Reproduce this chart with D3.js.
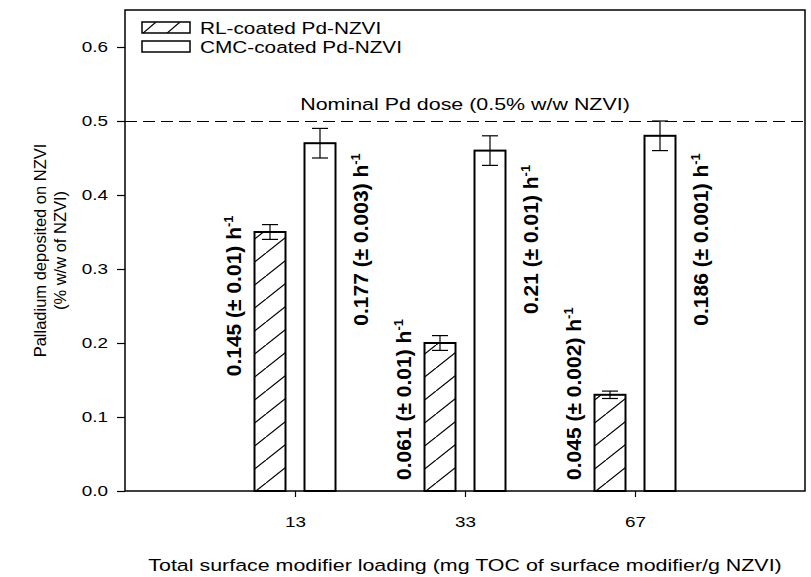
<!DOCTYPE html>
<html>
<head>
<meta charset="utf-8">
<script src="https://cdn.jsdelivr.net/npm/d3@7"></script>
<style>
  html, body { margin: 0; padding: 0; background: #fff; }
  svg { display: block; font-family: "Liberation Sans", Arial, sans-serif; }
</style>
</head>
<body>
<svg id="chart" width="811" height="577"></svg>
<script>
// ---------- data ----------
const categories = ["13", "33", "67"];
const seriesNames = ["RL-coated Pd-NZVI", "CMC-coated Pd-NZVI"];
const rlValues = [0.35, 0.20, 0.13];
const rlErrors = [0.01, 0.01, 0.005];
const cmcValues = [0.47, 0.46, 0.48];
const cmcErrors = [0.02, 0.02, 0.02];
const rlRates = ["0.145 (± 0.01) h", "0.061 (± 0.01) h", "0.045 (± 0.002) h"];
const cmcRates = ["0.177 (± 0.003) h", "0.21 (± 0.01) h", "0.186 (± 0.001) h"];
const rateUnitExp = "-1";
const yTicks = [0.0, 0.1, 0.2, 0.3, 0.4, 0.5, 0.6];
const nominalDose = 0.5;
const nominalLabel = "Nominal Pd dose (0.5% w/w NZVI)";
const xTitle = "Total surface modifier loading (mg TOC of surface modifier/g NZVI)";
const yTitle1 = "Palladium deposited on NZVI";
const yTitle2 = "(% w/w of NZVI)";

// ---------- layout ----------
const M = { left: 125, right: 805, top: 10, bottom: 491 };
const S = 1.26;                            // horizontal stretch of the lettering
const rlLabelAt = [0.155, 0.015, 0.015];   // value where RL rate label starts
const cmcLabelMid = 0.34;                  // value at centre of CMC rate labels

const svg = d3.select("#chart");

const x = d3.scalePoint().domain(categories).range([M.left, M.right]).padding(1);
const xSub = d3.scaleBand().domain(["RL", "CMC"]).range([-40.5, 40.5]).paddingInner(0.38);
const y = d3.scaleLinear().domain([0, 0.65]).range([M.bottom, M.top]);

// hatch pattern
const defs = svg.append("defs");
const pw = 29, ph = 23;
const pat = defs.append("pattern").attr("id", "hatch")
  .attr("patternUnits", "userSpaceOnUse").attr("width", pw).attr("height", ph);
pat.append("path")
  .attr("d", `M0,${ph} L${pw},0 M${-pw},${ph} L0,0 M${pw},${2*ph} L${2*pw},${ph}`)
  .attr("stroke", "#000").attr("stroke-width", 1.2).attr("fill", "none");
const pat2 = defs.append("pattern").attr("id", "hatchLegend")
  .attr("patternUnits", "userSpaceOnUse").attr("width", 24).attr("height", 12)
  .attr("x", 142).attr("y", 22);
pat2.append("path").attr("d", "M0,12 L14,0").attr("stroke", "#000").attr("stroke-width", 1.2);

// data rows
const rows = categories.map((c, i) => ({
  cat: c,
  bars: [
    { key: "RL", v: rlValues[i], e: rlErrors[i] },
    { key: "CMC", v: cmcValues[i], e: cmcErrors[i] }
  ]
}));

// bars
const g = svg.append("g");
const cat = g.selectAll("g.cat").data(rows).join("g")
  .attr("class", "cat")
  .attr("transform", d => `translate(${x(d.cat)},0)`);

cat.selectAll("rect").data(d => d.bars).join("rect")
  .attr("x", d => xSub(d.key))
  .attr("width", xSub.bandwidth())
  .attr("y", d => y(d.v))
  .attr("height", d => y(0) - y(d.v))
  .attr("fill", d => d.key === "RL" ? "url(#hatch)" : "#fff")
  .attr("stroke", "#000").attr("stroke-width", 2);

// error bars
const capW = 16;
const eb = cat.selectAll("g.eb").data(d => d.bars).join("g").attr("class", "eb")
  .attr("stroke", "#000").attr("stroke-width", 1.2);
const cx = d => xSub(d.key) + xSub.bandwidth() / 2;
eb.append("line")
  .attr("x1", cx).attr("x2", cx)
  .attr("y1", d => y(d.v + d.e)).attr("y2", d => y(d.v - d.e));
eb.append("line")
  .attr("x1", d => cx(d) - capW / 2).attr("x2", d => cx(d) + capW / 2)
  .attr("y1", d => y(d.v + d.e)).attr("y2", d => y(d.v + d.e));
eb.append("line")
  .attr("x1", d => cx(d) - capW / 2).attr("x2", d => cx(d) + capW / 2)
  .attr("y1", d => y(d.v - d.e)).attr("y2", d => y(d.v - d.e));

// nominal dose dashed line
svg.append("line")
  .attr("x1", M.left).attr("x2", M.right)
  .attr("y1", y(nominalDose) + 0.5).attr("y2", y(nominalDose) + 0.5)
  .attr("stroke", "#000").attr("stroke-width", 1.2)
  .attr("stroke-dasharray", "12,6");

function stretched(px, py, rotate, s) {
  const k = s === undefined ? S : s;
  return svg.append("g")
    .attr("transform", `translate(${px},${py}) scale(${k},1)` + (rotate ? " rotate(-90)" : ""))
    .append("text");
}

stretched(x("33"), y(nominalDose) - 11, false)
  .attr("text-anchor", "middle").attr("font-size", 17)
  .text(nominalLabel);

// rate labels
function rateLabel(sel, txt) {
  sel.append("tspan").text(txt);
  sel.append("tspan").attr("font-size", 13).attr("dy", -8).text(rateUnitExp);
}
categories.forEach((c, i) => {
  const t1 = stretched(x(c) - 54, y(rlLabelAt[i]), true, 1)
    .attr("text-anchor", "start").attr("font-size", 21).attr("font-weight", "bold");
  rateLabel(t1, rlRates[i]);
  const t2 = stretched(x(c) + 73, y(cmcLabelMid), true, 1)
    .attr("text-anchor", "middle").attr("font-size", 21).attr("font-weight", "bold");
  rateLabel(t2, cmcRates[i]);
});

// axes
const yAxis = d3.axisLeft(y).tickValues(yTicks).tickFormat(d3.format(".1f")).tickSize(8);
const yg = svg.append("g").attr("transform", `translate(${M.left},0)`).call(yAxis);
const xAxis = d3.axisBottom(x).tickSize(6).tickPadding(19);
const xg = svg.append("g").attr("transform", `translate(0,${M.bottom})`).call(xAxis);
[yg, xg].forEach(a => {
  a.select(".domain").remove();
  a.selectAll("line").attr("stroke", "#000").attr("stroke-width", 1.2);
  a.selectAll("text").attr("font-size", 15).attr("fill", "#000")
    .attr("font-family", "Liberation Sans, Arial, sans-serif");
});
yg.selectAll(".tick text").attr("x", -17 / S).attr("transform", `scale(${S},1)`);
xg.selectAll(".tick text").attr("transform", `scale(${S},1)`);

// frame
svg.append("rect")
  .attr("x", M.left).attr("y", M.top)
  .attr("width", M.right - M.left).attr("height", M.bottom - M.top)
  .attr("fill", "none").attr("stroke", "#000").attr("stroke-width", 1.5);

// legend
const lg = [
  { name: seriesNames[0], fill: "url(#hatchLegend)" },
  { name: seriesNames[1], fill: "#fff" }
];
lg.forEach((d, i) => {
  const yy = 22 + i * 19;
  svg.append("rect").attr("x", 142).attr("y", yy).attr("width", 48).attr("height", 11)
    .attr("fill", d.fill).attr("stroke", "#000").attr("stroke-width", 1.5);
  stretched(200, yy + 11.5, false).attr("font-size", 16.5).text(d.name);
});

// axis titles
stretched(x("33"), 571, false)
  .attr("text-anchor", "middle").attr("font-size", 17).text(xTitle);
const ymid = (M.top + M.bottom) / 2;
stretched(46, ymid, true, 1).attr("text-anchor", "middle").attr("font-size", 16.5).text(yTitle1);
stretched(66, ymid, true, 1).attr("text-anchor", "middle").attr("font-size", 16.5).text(yTitle2);
</script>
</body>
</html>
